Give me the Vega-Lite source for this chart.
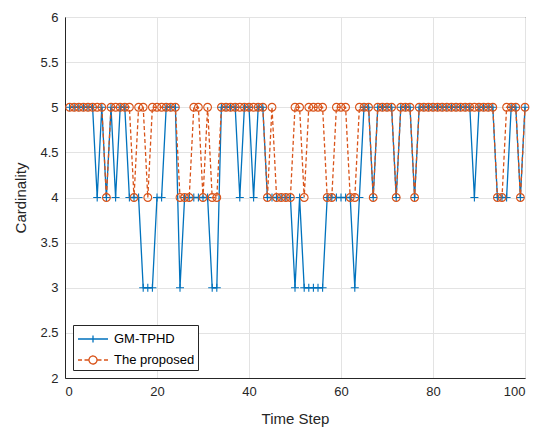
{
  "$schema": "https://vega.github.io/schema/vega-lite/v6.json",
  "width": 460,
  "height": 361,
  "autosize": {"type": "none"},
  "padding": {"left": 65, "top": 17, "right": 25, "bottom": 64},
  "background": "white",
  "data": {
    "values": [
      {"t":1,"s":"GM-TPHD","v":5},{"t":2,"s":"GM-TPHD","v":5},{"t":3,"s":"GM-TPHD","v":5},{"t":4,"s":"GM-TPHD","v":5},{"t":5,"s":"GM-TPHD","v":5},
      {"t":6,"s":"GM-TPHD","v":5},{"t":7,"s":"GM-TPHD","v":4},{"t":8,"s":"GM-TPHD","v":5},{"t":9,"s":"GM-TPHD","v":4},{"t":10,"s":"GM-TPHD","v":5},
      {"t":11,"s":"GM-TPHD","v":4},{"t":12,"s":"GM-TPHD","v":5},{"t":13,"s":"GM-TPHD","v":5},{"t":14,"s":"GM-TPHD","v":4},{"t":15,"s":"GM-TPHD","v":4},
      {"t":16,"s":"GM-TPHD","v":4},{"t":17,"s":"GM-TPHD","v":3},{"t":18,"s":"GM-TPHD","v":3},{"t":19,"s":"GM-TPHD","v":3},{"t":20,"s":"GM-TPHD","v":4},
      {"t":21,"s":"GM-TPHD","v":4},{"t":22,"s":"GM-TPHD","v":5},{"t":23,"s":"GM-TPHD","v":5},{"t":24,"s":"GM-TPHD","v":5},{"t":25,"s":"GM-TPHD","v":3},
      {"t":26,"s":"GM-TPHD","v":4},{"t":27,"s":"GM-TPHD","v":4},{"t":28,"s":"GM-TPHD","v":4},{"t":29,"s":"GM-TPHD","v":4},{"t":30,"s":"GM-TPHD","v":4},
      {"t":31,"s":"GM-TPHD","v":4},{"t":32,"s":"GM-TPHD","v":3},{"t":33,"s":"GM-TPHD","v":3},{"t":34,"s":"GM-TPHD","v":5},{"t":35,"s":"GM-TPHD","v":5},
      {"t":36,"s":"GM-TPHD","v":5},{"t":37,"s":"GM-TPHD","v":5},{"t":38,"s":"GM-TPHD","v":4},{"t":39,"s":"GM-TPHD","v":5},{"t":40,"s":"GM-TPHD","v":5},
      {"t":41,"s":"GM-TPHD","v":4},{"t":42,"s":"GM-TPHD","v":5},{"t":43,"s":"GM-TPHD","v":5},{"t":44,"s":"GM-TPHD","v":4},{"t":45,"s":"GM-TPHD","v":4},
      {"t":46,"s":"GM-TPHD","v":4},{"t":47,"s":"GM-TPHD","v":4},{"t":48,"s":"GM-TPHD","v":4},{"t":49,"s":"GM-TPHD","v":4},{"t":50,"s":"GM-TPHD","v":3},
      {"t":51,"s":"GM-TPHD","v":4},{"t":52,"s":"GM-TPHD","v":3},{"t":53,"s":"GM-TPHD","v":3},{"t":54,"s":"GM-TPHD","v":3},{"t":55,"s":"GM-TPHD","v":3},
      {"t":56,"s":"GM-TPHD","v":3},{"t":57,"s":"GM-TPHD","v":4},{"t":58,"s":"GM-TPHD","v":4},{"t":59,"s":"GM-TPHD","v":4},{"t":60,"s":"GM-TPHD","v":4},
      {"t":61,"s":"GM-TPHD","v":4},{"t":62,"s":"GM-TPHD","v":4},{"t":63,"s":"GM-TPHD","v":3},{"t":64,"s":"GM-TPHD","v":4},{"t":65,"s":"GM-TPHD","v":5},
      {"t":66,"s":"GM-TPHD","v":5},{"t":67,"s":"GM-TPHD","v":4},{"t":68,"s":"GM-TPHD","v":5},{"t":69,"s":"GM-TPHD","v":5},{"t":70,"s":"GM-TPHD","v":5},
      {"t":71,"s":"GM-TPHD","v":5},{"t":72,"s":"GM-TPHD","v":4},{"t":73,"s":"GM-TPHD","v":5},{"t":74,"s":"GM-TPHD","v":5},{"t":75,"s":"GM-TPHD","v":5},
      {"t":76,"s":"GM-TPHD","v":4},{"t":77,"s":"GM-TPHD","v":5},{"t":78,"s":"GM-TPHD","v":5},{"t":79,"s":"GM-TPHD","v":5},{"t":80,"s":"GM-TPHD","v":5},
      {"t":81,"s":"GM-TPHD","v":5},{"t":82,"s":"GM-TPHD","v":5},{"t":83,"s":"GM-TPHD","v":5},{"t":84,"s":"GM-TPHD","v":5},{"t":85,"s":"GM-TPHD","v":5},
      {"t":86,"s":"GM-TPHD","v":5},{"t":87,"s":"GM-TPHD","v":5},{"t":88,"s":"GM-TPHD","v":5},{"t":89,"s":"GM-TPHD","v":4},{"t":90,"s":"GM-TPHD","v":5},
      {"t":91,"s":"GM-TPHD","v":5},{"t":92,"s":"GM-TPHD","v":5},{"t":93,"s":"GM-TPHD","v":5},{"t":94,"s":"GM-TPHD","v":4},{"t":95,"s":"GM-TPHD","v":4},
      {"t":96,"s":"GM-TPHD","v":4},{"t":97,"s":"GM-TPHD","v":5},{"t":98,"s":"GM-TPHD","v":5},{"t":99,"s":"GM-TPHD","v":4},{"t":100,"s":"GM-TPHD","v":5},
      {"t":1,"s":"The proposed","v":5},{"t":2,"s":"The proposed","v":5},{"t":3,"s":"The proposed","v":5},{"t":4,"s":"The proposed","v":5},{"t":5,"s":"The proposed","v":5},
      {"t":6,"s":"The proposed","v":5},{"t":7,"s":"The proposed","v":5},{"t":8,"s":"The proposed","v":5},{"t":9,"s":"The proposed","v":4},{"t":10,"s":"The proposed","v":5},
      {"t":11,"s":"The proposed","v":5},{"t":12,"s":"The proposed","v":5},{"t":13,"s":"The proposed","v":5},{"t":14,"s":"The proposed","v":5},{"t":15,"s":"The proposed","v":4},
      {"t":16,"s":"The proposed","v":5},{"t":17,"s":"The proposed","v":5},{"t":18,"s":"The proposed","v":4},{"t":19,"s":"The proposed","v":5},{"t":20,"s":"The proposed","v":5},
      {"t":21,"s":"The proposed","v":5},{"t":22,"s":"The proposed","v":5},{"t":23,"s":"The proposed","v":5},{"t":24,"s":"The proposed","v":5},{"t":25,"s":"The proposed","v":4},
      {"t":26,"s":"The proposed","v":4},{"t":27,"s":"The proposed","v":4},{"t":28,"s":"The proposed","v":5},{"t":29,"s":"The proposed","v":5},{"t":30,"s":"The proposed","v":4},
      {"t":31,"s":"The proposed","v":5},{"t":32,"s":"The proposed","v":4},{"t":33,"s":"The proposed","v":4},{"t":34,"s":"The proposed","v":5},{"t":35,"s":"The proposed","v":5},
      {"t":36,"s":"The proposed","v":5},{"t":37,"s":"The proposed","v":5},{"t":38,"s":"The proposed","v":5},{"t":39,"s":"The proposed","v":5},{"t":40,"s":"The proposed","v":5},
      {"t":41,"s":"The proposed","v":5},{"t":42,"s":"The proposed","v":5},{"t":43,"s":"The proposed","v":5},{"t":44,"s":"The proposed","v":4},{"t":45,"s":"The proposed","v":5},
      {"t":46,"s":"The proposed","v":4},{"t":47,"s":"The proposed","v":4},{"t":48,"s":"The proposed","v":4},{"t":49,"s":"The proposed","v":4},{"t":50,"s":"The proposed","v":5},
      {"t":51,"s":"The proposed","v":5},{"t":52,"s":"The proposed","v":4},{"t":53,"s":"The proposed","v":5},{"t":54,"s":"The proposed","v":5},{"t":55,"s":"The proposed","v":5},
      {"t":56,"s":"The proposed","v":5},{"t":57,"s":"The proposed","v":4},{"t":58,"s":"The proposed","v":4},{"t":59,"s":"The proposed","v":5},{"t":60,"s":"The proposed","v":5},
      {"t":61,"s":"The proposed","v":5},{"t":62,"s":"The proposed","v":4},{"t":63,"s":"The proposed","v":4},{"t":64,"s":"The proposed","v":5},{"t":65,"s":"The proposed","v":5},
      {"t":66,"s":"The proposed","v":5},{"t":67,"s":"The proposed","v":4},{"t":68,"s":"The proposed","v":5},{"t":69,"s":"The proposed","v":5},{"t":70,"s":"The proposed","v":5},
      {"t":71,"s":"The proposed","v":5},{"t":72,"s":"The proposed","v":4},{"t":73,"s":"The proposed","v":5},{"t":74,"s":"The proposed","v":5},{"t":75,"s":"The proposed","v":5},
      {"t":76,"s":"The proposed","v":4},{"t":77,"s":"The proposed","v":5},{"t":78,"s":"The proposed","v":5},{"t":79,"s":"The proposed","v":5},{"t":80,"s":"The proposed","v":5},
      {"t":81,"s":"The proposed","v":5},{"t":82,"s":"The proposed","v":5},{"t":83,"s":"The proposed","v":5},{"t":84,"s":"The proposed","v":5},{"t":85,"s":"The proposed","v":5},
      {"t":86,"s":"The proposed","v":5},{"t":87,"s":"The proposed","v":5},{"t":88,"s":"The proposed","v":5},{"t":89,"s":"The proposed","v":5},{"t":90,"s":"The proposed","v":5},
      {"t":91,"s":"The proposed","v":5},{"t":92,"s":"The proposed","v":5},{"t":93,"s":"The proposed","v":5},{"t":94,"s":"The proposed","v":4},{"t":95,"s":"The proposed","v":4},
      {"t":96,"s":"The proposed","v":5},{"t":97,"s":"The proposed","v":5},{"t":98,"s":"The proposed","v":5},{"t":99,"s":"The proposed","v":4},{"t":100,"s":"The proposed","v":5}
    ]
  },
  "encoding": {
    "x": {
      "field": "t",
      "type": "quantitative",
      "scale": {"domain": [0, 100], "nice": false},
      "axis": {"values": [0, 20, 40, 60, 80, 100], "title": "Time Step", "grid": true}
    },
    "y": {
      "field": "v",
      "type": "quantitative",
      "scale": {"domain": [2, 6], "nice": false, "zero": false},
      "axis": {"values": [2, 2.5, 3, 3.5, 4, 4.5, 5, 5.5, 6], "format": "~g", "title": "Cardinality", "grid": true}
    },
    "color": {
      "field": "s",
      "type": "nominal",
      "scale": {"domain": ["GM-TPHD", "The proposed"], "range": ["#0072BD", "#D95319"]},
      "legend": {
        "title": null,
        "orient": "bottom-left",
        "offset": 8,
        "symbolSize": 400,
        "symbolStrokeWidth": 1.3,
        "symbolOffset": 6,
        "labelOffset": 10,
        "labelFontSize": 13,
        "labelFont": "Liberation Sans",
        "labelColor": "#000000",
        "labelExpr": "datum.label + '\u00a0\u00a0\u00a0\u00a0\u00a0\u00a0\u00a0\u00a0\u00a0\u00a0'",
        "strokeColor": "#262626",
        "fillColor": "white",
        "padding": 3,
        "rowPadding": 3,
        "encode": {
          "symbols": {
            "update": {
              "shape": {"signal": "datum.value === 'GM-TPHD' ? 'M-1.5,0L1.5,0M0,-0.35L0,0.35' : 'M-1.5,0L-1.1,0M-0.85,0L-0.45,0M0.45,0L0.85,0M1.1,0L1.5,0M0.4,0A0.4,0.4 0 1 1 -0.4,0A0.4,0.4 0 1 1 0.4,0'"},
              "strokeDash": {"value": [1, 0]},
              "fill": {"value": "transparent"}
            }
          }
        }
      }
    }
  },
  "layer": [
    {
      "transform": [{"filter": "datum.s === 'GM-TPHD'"}],
      "mark": {"type": "line", "strokeWidth": 1.3},
      "encoding": {}
    },
    {
      "transform": [{"filter": "datum.s === 'The proposed'"}],
      "mark": {"type": "line", "strokeWidth": 1.3, "strokeDash": [4, 2.5]},
      "encoding": {}
    },
    {
      "transform": [{"filter": "datum.s === 'GM-TPHD'"}],
      "mark": {"type": "point", "filled": false, "strokeWidth": 1.1, "opacity": 1, "size": 64, "shape": "M-1,0L1,0M0,-1L0,1"},
      "encoding": {}
    },
    {
      "transform": [{"filter": "datum.s === 'The proposed'"}],
      "mark": {"type": "point", "filled": false, "strokeWidth": 1.1, "opacity": 1, "size": 60, "shape": "circle"},
      "encoding": {}
    }
  ],
  "config": {
    "view": {"stroke": "#262626", "strokeWidth": 1},
    "axis": {
      "domainColor": "#262626",
      "labelColor": "#262626",
      "titleColor": "#262626",
      "labelFont": "Liberation Sans",
      "titleFont": "Liberation Sans",
      "labelFontSize": 13,
      "titleFontSize": 15,
      "titleFontWeight": "normal",
      "gridColor": "#e3e3e3",
      "gridWidth": 1,
      "ticks": false,
      "labelPadding": 7
    },
    "axisX": {"titlePadding": 13},
    "axisY": {"titlePadding": 11}
  }
}
